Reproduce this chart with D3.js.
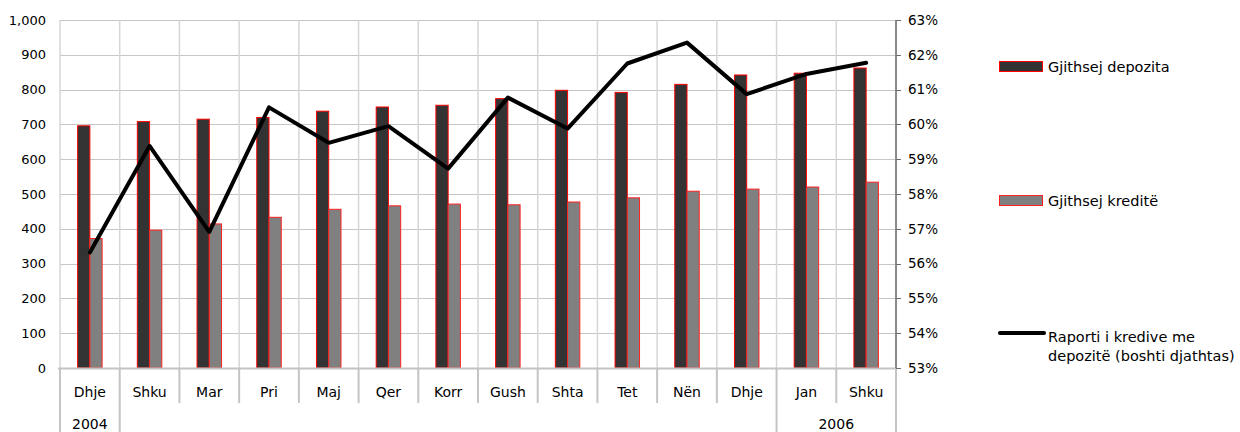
<!DOCTYPE html>
<html>
<head>
<meta charset="utf-8">
<script src="https://cdn.jsdelivr.net/npm/d3@7"></script>
<style>
  html, body { margin: 0; padding: 0; background: #fff; }
  svg { display: block; font-family: "DejaVu Sans", Verdana, sans-serif; }
</style>
</head>
<body>
<svg id="chart" width="1240" height="432"></svg>
<script>
// ---- data ----
const months = ["Dhje","Shku","Mar","Pri","Maj","Qer","Korr","Gush","Shta","Tet","Nën","Dhje","Jan","Shku"];
const yearLabels = [{label: "2004", from: 0, to: 1}, {label: "2006", from: 12, to: 14}];
const deposits = [696, 708, 715, 720, 738, 750, 755, 774, 798, 792, 815, 842, 847, 862];
const credits  = [372, 396, 414, 433, 456, 466, 471, 469, 477, 489, 508, 514, 520, 534];
const ratio    = [0.5632, 0.5938, 0.5691, 0.6049, 0.5947, 0.5995, 0.5873, 0.6077, 0.5988, 0.6175, 0.6235, 0.6087, 0.6145, 0.6177];
const leftTicks  = [0,100,200,300,400,500,600,700,800,900,1000];
const rightTicks = [0.53,0.54,0.55,0.56,0.57,0.58,0.59,0.60,0.61,0.62,0.63];
const seriesNames = ["Gjithsej depozita", "Gjithsej kreditë", ["Raporti i kredive me", "depozitë (boshti djathtas)"]];

// ---- layout ----
const svg = d3.select("#chart");
const L = 60, R = 896, T = 20, B = 368;
const x = d3.scaleBand().domain(d3.range(months.length)).range([L, R]).paddingInner(0).paddingOuter(0);
const step = x.step();
const yL = d3.scaleLinear().domain([0, 1000]).range([B, T]);
const yR = d3.scaleLinear().domain([0.53, 0.63]).range([B, T]);
const barW = step * 0.205;

// gridlines horizontal
svg.append("g").selectAll("line").data(leftTicks).join("line")
  .attr("x1", L).attr("x2", R)
  .attr("y1", d => Math.round(yL(d)) + 0.5).attr("y2", d => Math.round(yL(d)) + 0.5)
  .attr("stroke", "#c6c6c6").attr("stroke-width", 1);

// gridlines vertical (category boundaries)
svg.append("g").selectAll("line").data(d3.range(months.length + 1)).join("line")
  .attr("x1", i => L + i * step).attr("x2", i => L + i * step)
  .attr("y1", T).attr("y2", B)
  .attr("stroke", "#d6d6d6").attr("stroke-width", 1.5);

// left axis labels
svg.append("g").selectAll("text").data(leftTicks).join("text")
  .attr("x", 46).attr("y", d => yL(d)).attr("dy", "0.36em")
  .attr("text-anchor", "end").attr("font-size", 13).attr("fill", "#000")
  .text(d3.format(","));

// bars
const g = svg.append("g");
g.selectAll("rect.dep").data(deposits).join("rect").attr("class", "dep")
  .attr("x", (d, i) => x(i) + step / 2 - barW)
  .attr("y", d => yL(d)).attr("width", barW).attr("height", d => B - yL(d))
  .attr("fill", "#333333").attr("stroke", "#ff0000").attr("stroke-width", 1);
g.selectAll("rect.cred").data(credits).join("rect").attr("class", "cred")
  .attr("x", (d, i) => x(i) + step / 2)
  .attr("y", d => yL(d)).attr("width", barW).attr("height", d => B - yL(d))
  .attr("fill", "#808080").attr("stroke", "#ff2020").attr("stroke-width", 1);

// bottom category axis
const ax = svg.append("g").attr("stroke", "#c4c4c4");
ax.append("line").attr("x1", L - 2).attr("x2", R).attr("y1", B + 0.5).attr("y2", B + 0.5).attr("stroke-width", 2);
const longIdx = new Set();
yearLabels.forEach(yl => { longIdx.add(yl.from); longIdx.add(yl.to); });
ax.selectAll("line.sep").data(d3.range(months.length + 1)).join("line").attr("class", "sep")
  .attr("x1", i => L + i * step).attr("x2", i => L + i * step)
  .attr("y1", B).attr("y2", i => longIdx.has(i) ? 432 : 403)
  .attr("stroke-width", 2);

svg.append("g").selectAll("text").data(months).join("text")
  .attr("x", (d, i) => x(i) + step / 2).attr("y", 397)
  .attr("text-anchor", "middle").attr("font-size", 14).attr("fill", "#000")
  .text(d => d);
svg.append("g").selectAll("text").data(yearLabels).join("text")
  .attr("x", d => L + (d.from + d.to) / 2 * step).attr("y", 429)
  .attr("text-anchor", "middle").attr("font-size", 14).attr("fill", "#000")
  .text(d => d.label);

// right axis
const ra = svg.append("g");
ra.append("line").attr("x1", R).attr("x2", R).attr("y1", T).attr("y2", B)
  .attr("stroke", "#6e6e6e").attr("stroke-width", 1.5);
ra.selectAll("line.t").data(rightTicks).join("line").attr("class", "t")
  .attr("x1", R).attr("x2", R + 5)
  .attr("y1", d => Math.round(yR(d)) + 0.5).attr("y2", d => Math.round(yR(d)) + 0.5)
  .attr("stroke", "#6e6e6e").attr("stroke-width", 1);
ra.selectAll("text").data(rightTicks).join("text")
  .attr("x", 908).attr("y", d => yR(d)).attr("dy", "0.36em")
  .attr("font-size", 13.5).attr("fill", "#000")
  .text(d3.format(".0%"));

// line
const line = d3.line().x((d, i) => x(i) + step / 2).y(d => yR(d));
svg.append("path").datum(ratio).attr("d", line)
  .attr("fill", "none").attr("stroke", "#000").attr("stroke-width", 4)
  .attr("stroke-linejoin", "round").attr("stroke-linecap", "round");

// legend
const lg = svg.append("g");
lg.append("rect").attr("x", 999.5).attr("y", 61.5).attr("width", 43).attr("height", 10)
  .attr("fill", "#333333").attr("stroke", "#ff0000").attr("stroke-width", 1);
lg.append("text").attr("x", 1048).attr("y", 71.5).attr("font-size", 14.5).text(seriesNames[0]);
lg.append("rect").attr("x", 999.5).attr("y", 195.5).attr("width", 43).attr("height", 10)
  .attr("fill", "#808080").attr("stroke", "#ff2020").attr("stroke-width", 1);
lg.append("text").attr("x", 1048).attr("y", 205.5).attr("font-size", 14.5).text(seriesNames[1]);
lg.append("line").attr("x1", 1000).attr("x2", 1044).attr("y1", 333).attr("y2", 333)
  .attr("stroke", "#000").attr("stroke-width", 4).attr("stroke-linecap", "round");
lg.append("text").attr("x", 1048).attr("y", 341.5).attr("font-size", 14.5)
  .selectAll("tspan").data(seriesNames[2]).join("tspan")
  .attr("x", 1048).attr("dy", (d, i) => i === 0 ? 0 : 19.5).text(d => d);
</script>
</body>
</html>
